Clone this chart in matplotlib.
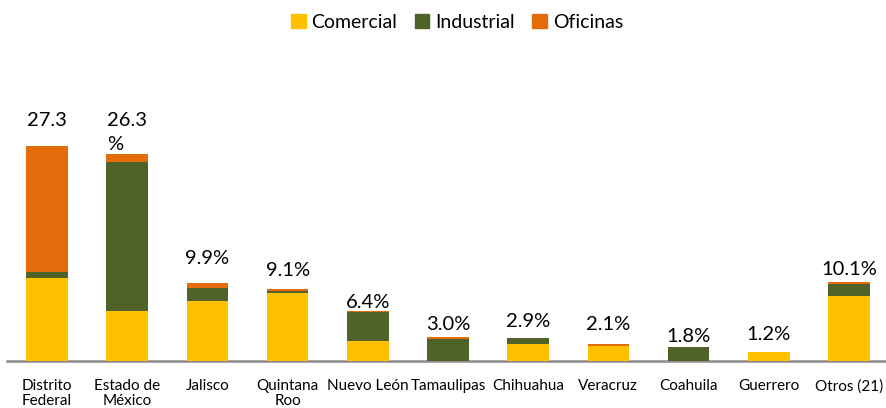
import matplotlib
matplotlib.use("Agg")
import matplotlib.pyplot as plt
import numpy as np
from matplotlib.patches import Patch

plt.rcParams['font.family'] = ['Lato', 'DejaVu Sans']

# data (% del total)
estados = ["Distrito\nFederal", "Estado de\nMéxico", "Jalisco", "Quintana\nRoo",
           "Nuevo León", "Tamaulipas", "Chihuahua", "Veracruz", "Coahuila",
           "Guerrero", "Otros (21)"]
comercial = [10.6, 6.4, 7.6, 8.7, 2.6, 0.0, 2.1, 1.9, 0.0, 1.2, 8.3]
industrial = [0.7, 18.9, 1.7, 0.2, 3.6, 2.8, 0.8, 0.0, 1.8, 0.0, 1.5]
oficinas = [16.0, 1.0, 0.6, 0.2, 0.2, 0.2, 0.0, 0.2, 0.0, 0.0, 0.3]
totales = [27.3, 26.3, 9.9, 9.1, 6.4, 3.0, 2.9, 2.1, 1.8, 1.2, 10.1]

c_com = "#FFC000"
c_ind = "#4F6228"
c_ofi = "#E46C0A"

# gap between bar top and its label (in % units), labels were placed by hand
gap = [0, 0, 2.0, 1.3, 0.0, 0.6, 1.0, 1.5, 0.25, 1.1, 0.5]

fig = plt.figure(figsize=(8.86, 4.08), dpi=100)
ax = fig.add_axes([7/886, 47/408, 882/886, 236/408])

x = np.arange(len(estados))
w = 0.52
com = np.array(comercial)
ind = np.array(industrial)
ofi = np.array(oficinas)
ax.bar(x, com, w, color=c_com, zorder=3)
ax.bar(x, ind, w, bottom=com, color=c_ind, zorder=3)
ax.bar(x, ofi, w, bottom=com + ind, color=c_ofi, zorder=3)

fs = 14.5
for i, t in enumerate(totales):
    lab = f"{t:.1f}%"
    top = com[i] + ind[i] + ofi[i]
    if i == 0:
        ax.text(x[i], 31.6, f"{t:.1f}", ha="center", va="top", fontsize=fs, zorder=2)
    elif i == 1:
        ax.text(x[i], 31.6, lab.replace("%", "\n%"), ha="center", va="top",
                fontsize=fs, linespacing=1.45, multialignment="left", zorder=5)
    else:
        ax.text(x[i], top + gap[i], lab, ha="center", va="bottom", fontsize=fs, zorder=5)

ax.set_xlim(-0.5, len(estados) - 0.5)
ax.set_ylim(0, 30)
ax.set_xticks(x)
ax.set_xticklabels(estados, fontsize=11, linespacing=1.1)
ax.tick_params(axis="x", length=0, pad=13)
ax.set_yticks([])
for s in ["top", "right", "left"]:
    ax.spines[s].set_visible(False)
ax.spines["bottom"].set_color("#8C8C8C")
ax.spines["bottom"].set_linewidth(1.8)

handles = [Patch(color=c_com, label="Comercial"),
           Patch(color=c_ind, label="Industrial"),
           Patch(color=c_ofi, label="Oficinas")]
fig.legend(handles=handles, loc="center", bbox_to_anchor=(457/886, 1 - 22/408),
           ncol=3, frameon=False, fontsize=14, handlelength=0.75, handleheight=0.75,
           handletextpad=0.3, columnspacing=0.9)

fig.savefig("out.png", dpi=100)
